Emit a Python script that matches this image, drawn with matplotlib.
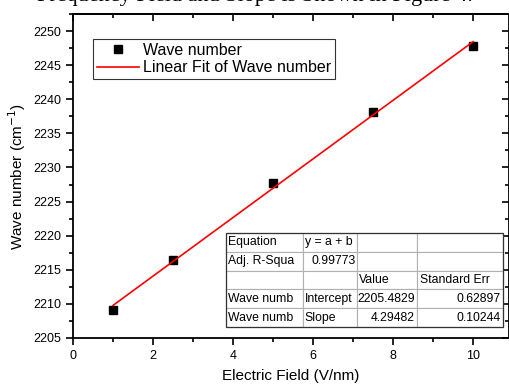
import matplotlib
matplotlib.use("Agg")
import matplotlib.pyplot as plt
from matplotlib.ticker import MultipleLocator
from matplotlib.patches import Rectangle

plt.rcParams['font.family'] = ['Liberation Sans', 'DejaVu Sans']

field = [1, 2.5, 5, 7.5, 10]
wave = [2209.1, 2216.4, 2227.7, 2238.2, 2247.8]
intercept = 2205.4829
slope = 4.29482

table_rows = [
    ["Equation", "y = a + b", "", ""],
    ["Adj. R-Squa", "0.99773", "", ""],
    ["", "", "Value", "Standard Err"],
    ["Wave numb", "Intercept", "2205.4829", "0.62897"],
    ["Wave numb", "Slope", "4.29482", "0.10244"],
]

fig = plt.figure(figsize=(5.09, 3.84), dpi=100)
ax = fig.add_axes([73/509, 46/384, 436/509, 324/384])

fit_x = [field[0], field[-1]]
fit_y = [intercept + slope * v for v in fit_x]
ax.plot(field, wave, 's', color='black', markersize=5.5, label='Wave number')
ax.plot(fit_x, fit_y, '-', color='red', lw=1.2, label='Linear Fit of Wave number')

ax.set_xlim(0, 10.9)
ax.set_ylim(2205, 2252.5)
ax.xaxis.set_major_locator(MultipleLocator(2))
ax.xaxis.set_minor_locator(MultipleLocator(1))
ax.yaxis.set_major_locator(MultipleLocator(5))
ax.yaxis.set_minor_locator(MultipleLocator(2.5))
ax.tick_params(which='both', direction='out', labelsize=9, width=1.2)
ax.tick_params(which='major', length=5)
ax.tick_params(which='minor', length=3)
for s in ax.spines.values():
    s.set_linewidth(1.3)

# mirrored ticks on top and right, pointing inward
top = ax.secondary_xaxis('top')
top.xaxis.set_major_locator(MultipleLocator(2))
top.xaxis.set_minor_locator(MultipleLocator(1))
top.tick_params(which='both', direction='in', labeltop=False, width=1.2)
top.tick_params(which='major', length=5)
top.tick_params(which='minor', length=3)
top.spines['top'].set_linewidth(1.3)
right = ax.secondary_yaxis('right')
right.yaxis.set_major_locator(MultipleLocator(5))
right.yaxis.set_minor_locator(MultipleLocator(2.5))
right.tick_params(which='both', direction='in', labelright=False, width=1.2)
right.tick_params(which='major', length=5)
right.tick_params(which='minor', length=3)

ax.set_xlabel('Electric Field (V/nm)', fontsize=11, labelpad=5)
ax.set_ylabel('Wave number (cm$^{-1}$)', fontsize=11)

leg = ax.legend(loc='upper left', bbox_to_anchor=(0.046, 0.923), fontsize=11.5,
                frameon=True, fancybox=False, edgecolor='black',
                handlelength=2.6, borderpad=0.25, labelspacing=0.15,
                handletextpad=0.3, borderaxespad=0)
leg.get_frame().set_linewidth(0.8)

# fit results table
x0, x1 = (226 - 73) / 436, (503 - 73) / 436
y0, y1 = (338 - 327) / 324, (338 - 233) / 324
widths = [77, 54, 60, 86]
tot = sum(widths)
cw = [w / tot * (x1 - x0) for w in widths]
tbl = ax.table(cellText=table_rows, colWidths=cw,
               bbox=[x0, y0, x1 - x0, y1 - y0], zorder=5)
tbl.auto_set_font_size(False)
right_cells = {(1, 1), (3, 2), (3, 3), (4, 2), (4, 3)}
for (r, c), cell in tbl.get_celld().items():
    cell.set_edgecolor('#b0b0b0')
    cell.set_linewidth(0.8)
    cell.set_facecolor('white')
    cell.get_text().set_fontsize(8.8)
    cell.PAD = 0.03
    if (r, c) in right_cells:
        cell.get_text().set_ha('right')
    else:
        cell.get_text().set_ha('left')
ax.add_patch(Rectangle((x0, y0), x1 - x0, y1 - y0, transform=ax.transAxes,
                       fill=False, edgecolor='#333333', lw=0.9, zorder=6))

# cropped line of body text above the figure
fig.text(0.5, 1 - 1/384, 'Frequency Field and Slope is Shown in Figure 4.',
         ha='center', va='baseline', fontsize=16, family='Liberation Serif')

fig.savefig('out.png', dpi=100)
